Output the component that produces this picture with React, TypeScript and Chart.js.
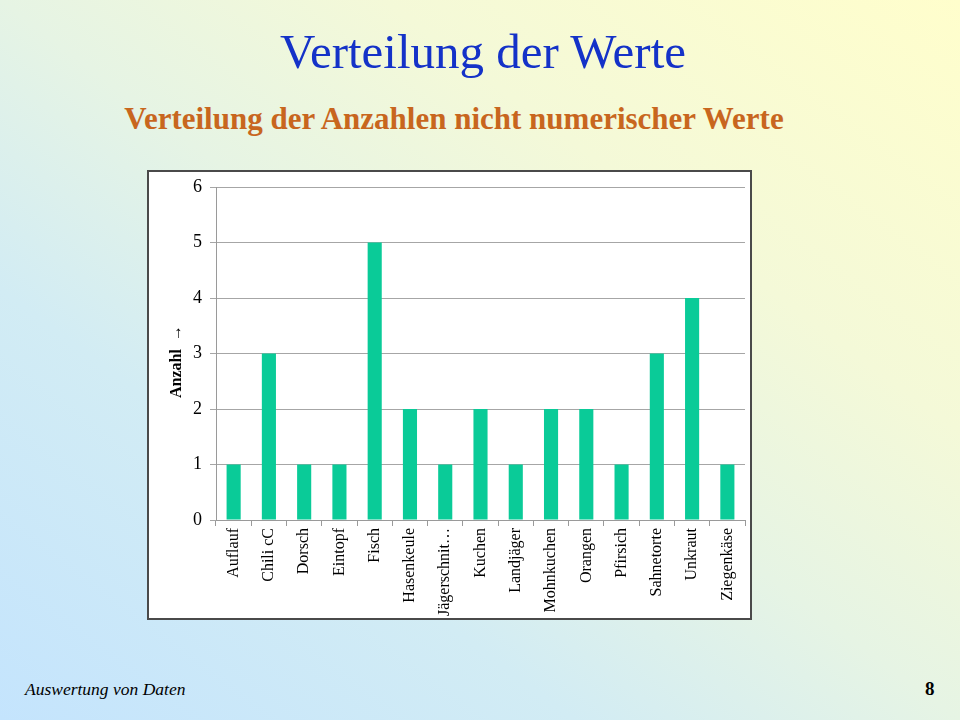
import React, { useEffect, useRef } from "react";
import { Chart, registerables } from "chart.js";

Chart.register(...registerables);

const categories = [
  "Auflauf", "Chili cC", "Dorsch", "Eintopf", "Fisch", "Hasenkeule", "Jägerschnit…",
  "Kuchen", "Landjäger", "Mohnkuchen", "Orangen", "Pfirsich", "Sahnetorte", "Unkraut", "Ziegenkäse",
];
const counts = [1, 3, 1, 1, 5, 2, 1, 2, 1, 2, 2, 1, 3, 4, 1];
const yTicks = [0, 1, 2, 3, 4, 5, 6];

const titleText = "Verteilung der Werte";
const subtitleText = "Verteilung der Anzahlen nicht numerischer Werte";
const yAxisTitle = "Anzahl  →    ";
const footerLeft = "Auswertung von Daten";
const footerRight = "8";

const serif = "'Liberation Serif', 'Times New Roman', serif";

export default function App() {
  const canvasRef = useRef<HTMLCanvasElement>(null);

  useEffect(() => {
    if (!canvasRef.current) return;
    const chart = new Chart(canvasRef.current, {
      type: "bar",
      data: {
        labels: categories,
        datasets: [
          {
            label: "Anzahl",
            data: counts,
            backgroundColor: "#0acb98",
            borderWidth: 0,
            categoryPercentage: 1,
            barPercentage: 0.4,
          },
        ],
      },
      options: {
        animation: false,
        responsive: true,
        maintainAspectRatio: false,
        layout: { padding: { top: 15, right: 5, left: 0, bottom: 0 } },
        plugins: { legend: { display: false }, tooltip: { enabled: false } },
        scales: {
          x: {
            grid: {
              display: true,
              drawOnChartArea: false,
              drawTicks: true,
              tickLength: 6,
              color: "#9a9a9a",
              offset: true,
            },
            border: { display: true, color: "#9a9a9a", width: 1 },
            ticks: {
              minRotation: 90,
              maxRotation: 90,
              autoSkip: false,
              padding: 2,
              color: "#000",
              font: { family: serif, size: 16 },
            },
            afterFit: (scale: any) => {
              scale.height = 98;
              scale.paddingLeft = 0;
              scale.paddingRight = 0;
            },
          },
          y: {
            min: 0,
            max: 6,
            afterBuildTicks: (scale: any) => {
              scale.ticks = yTicks.map((v) => ({ value: v }));
            },
            grid: {
              color: "#a6a6a6",
              tickLength: 6,
              lineWidth: 1,
            },
            border: { display: true, color: "#9a9a9a", width: 1 },
            ticks: {
              padding: 8,
              color: "#000",
              font: { family: serif, size: 18 },
            },
            title: {
              display: true,
              text: yAxisTitle,
              color: "#000",
              font: { family: serif, size: 16, weight: "bold" },
              padding: { top: 18, bottom: 0 },
            },
            afterFit: (scale: any) => {
              scale.width = 67;
              scale.paddingTop = 0;
              scale.paddingBottom = 0;
            },
          },
        },
      },
    });
    return () => chart.destroy();
  }, []);

  return (
    <div
      style={{
        position: "fixed",
        left: 0,
        top: 0,
        width: 960,
        height: 720,
        overflow: "hidden",
        background:
          "linear-gradient(to top right, #c4e4fd 0%, #d2ecf4 30%, #e6f4e4 50%, #f4f9d8 70%, #fffecc 100%)",
        fontFamily: serif,
      }}
    >
      <div
        style={{
          position: "absolute",
          left: 0,
          width: 966,
          top: 24,
          textAlign: "center",
          color: "#1432c8",
          fontSize: 49,
          lineHeight: "56px",
        }}
      >
        {titleText}
      </div>
      <div
        style={{
          position: "absolute",
          left: 0,
          width: 908,
          top: 101,
          textAlign: "center",
          color: "#c8661e",
          fontSize: 31,
          fontWeight: "bold",
          lineHeight: "36px",
        }}
      >
        {subtitleText}
      </div>
      <div
        style={{
          position: "absolute",
          left: 147,
          top: 170,
          width: 605,
          height: 450,
          boxSizing: "border-box",
          border: "2px solid #4a4a4a",
          background: "#ffffff",
        }}
      >
        <div style={{ position: "relative", width: "100%", height: "100%" }}>
          <canvas ref={canvasRef} />
        </div>
      </div>
      <div
        style={{
          position: "absolute",
          left: 25,
          top: 678,
          fontSize: 17.5,
          fontStyle: "italic",
          color: "#000",
          lineHeight: "22px",
        }}
      >
        {footerLeft}
      </div>
      <div
        style={{
          position: "absolute",
          left: 925,
          top: 678,
          fontSize: 19,
          fontWeight: "bold",
          color: "#000",
          lineHeight: "22px",
        }}
      >
        {footerRight}
      </div>
    </div>
  );
}
